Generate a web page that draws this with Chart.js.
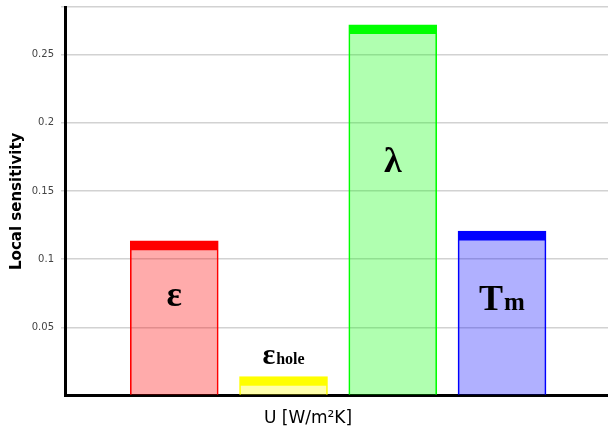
<!DOCTYPE html>
<html>
<head>
<meta charset="utf-8">
<script src="https://cdn.jsdelivr.net/npm/chart.js@4/dist/chart.umd.min.js"></script>
<style>
  html, body { margin: 0; padding: 0; background: #ffffff; }
  #wrap { width: 608px; height: 434px; }
</style>
</head>
<body>
<div id="wrap"><canvas id="c" width="608" height="434"></canvas></div>
<script>
// Parameters (symbol_subscript) and their local sensitivity of U
const categories = ['ε', 'ε_hole', 'λ', 'T_m'];
const sensitivity = [0.1135, 0.014, 0.272, 0.1206];
const yTicks = [0.05, 0.1, 0.15, 0.2, 0.25];
const yAxisMax = 0.285;

const barColors = ['#ff0000', '#ffff00', '#00ff00', '#0000ff'];
const barFills = ['rgba(255,0,0,0.33)', 'rgba(255,255,0,0.33)', 'rgba(0,255,0,0.31)', 'rgba(0,0,255,0.31)'];
// vertical anchor (in axis units) for each parameter symbol
const symbolBaseline = [0.0654, 0.0235, 0.164, 0.0625];

// Writes each parameter symbol (with subscript) over its bar
const symbolLabels = {
  id: 'symbolLabels',
  afterDatasetsDraw(chart) {
    const { ctx } = chart;
    const yScale = chart.scales.y;
    const meta = chart.getDatasetMeta(0);
    meta.data.forEach((bar, i) => {
      const [main, sub] = categories[i].split('_');
      const mainSize = sub === 'hole' ? 30 : 36;
      const subSize = sub === 'hole' ? 16 : 25;
      const mainFont = `bold ${mainSize}px "Liberation Serif", "Times New Roman", serif`;
      const subFont = `bold ${subSize}px "Liberation Serif", "Times New Roman", serif`;
      ctx.save();
      ctx.fillStyle = '#000000';
      ctx.textBaseline = 'alphabetic';
      ctx.textAlign = 'left';
      ctx.font = mainFont;
      const wMain = ctx.measureText(main).width;
      let wSub = 0;
      if (sub) { ctx.font = subFont; wSub = ctx.measureText(sub).width + 1; }
      const x0 = bar.x - (wMain + wSub) / 2;
      const y = yScale.getPixelForValue(symbolBaseline[i]);
      ctx.font = mainFont;
      ctx.fillText(main, x0, y);
      if (sub) { ctx.font = subFont; ctx.fillText(sub, x0 + wMain + 1, y); }
      ctx.restore();
    });
  }
};

new Chart(document.getElementById('c'), {
  type: 'bar',
  data: {
    datasets: [{
      data: sensitivity.map((v, i) => ({ x: i + 1, y: v })),
      backgroundColor: barFills,
      borderColor: barColors,
      borderWidth: { top: 9, left: 1, right: 1, bottom: 0 },
      borderSkipped: 'start',
      barThickness: 88
    }]
  },
  options: {
    responsive: false,
    animation: false,
    events: [],
    layout: { padding: { top: 7, left: 8, right: 0, bottom: 0 } },
    plugins: {
      legend: { display: false },
      tooltip: { enabled: false },
      title: {
        display: true,
        position: 'bottom',
        text: 'U [W/m²K]',
        color: '#000000',
        font: { family: '"DejaVu Sans", sans-serif', size: 17, weight: 'normal' },
        padding: { top: 13, bottom: 5 }
      }
    },
    scales: {
      x: {
        type: 'linear',
        offset: false,
        min: 0,
        max: 4.97,
        grid: { display: false, offset: false },
        ticks: { display: false },
        border: { display: true, color: '#000000', width: 3 },
        afterFit(scale) { scale.height = 0; scale.paddingLeft = 0; scale.paddingRight = 0; }
      },
      y: {
        min: 0,
        max: yAxisMax,
        afterBuildTicks(scale) {
          scale.ticks = [0, ...yTicks, yAxisMax].map(v => ({ value: v }));
        },
        ticks: {
          color: '#444444',
          padding: 7,
          font: { family: '"DejaVu Sans", sans-serif', size: 10 },
          callback: v => (yTicks.includes(v) ? String(v) : '')
        },
        grid: {
          color: ctx => (ctx.tick && ctx.tick.value === 0 ? 'rgba(0,0,0,0)' : '#d2d2d2'),
          lineWidth: 1.5,
          tickLength: 4
        },
        border: { display: true, color: '#000000', width: 3 },
        title: {
          display: true,
          text: 'Local sensitivity',
          color: '#000000',
          font: { family: '"DejaVu Sans", sans-serif', size: 15, weight: 'bold', lineHeight: 1 },
          padding: { top: 1.5, bottom: 0 }
        },
        afterFit(scale) { scale.width = 57; scale.paddingTop = 0; scale.paddingBottom = 0; }
      }
    }
  },
  plugins: [symbolLabels]
});
</script>
</body>
</html>
